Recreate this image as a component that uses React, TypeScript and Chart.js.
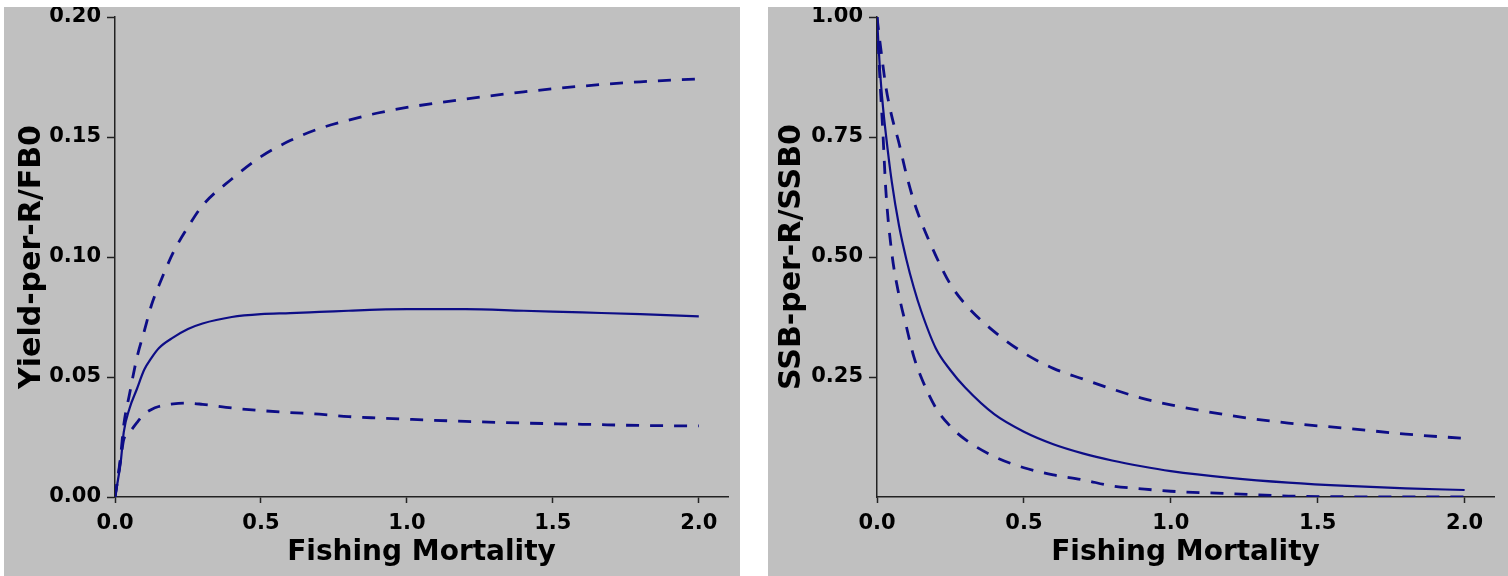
import React, { useEffect, useRef } from "react";
import { Chart, registerables } from "chart.js";

Chart.register(...registerables);

// Fishing mortality grid (x values)
const F = [0, 0.01, 0.02, 0.03, 0.05, 0.075, 0.1, 0.125, 0.15, 0.2, 0.25, 0.3, 0.4, 0.5, 0.6, 0.7, 0.8, 0.9, 1.0, 1.2, 1.4, 1.6, 1.8, 2.0];

// Left panel: Yield-per-R / FB0
const YIELD_MEDIAN = [0, 0.007, 0.015, 0.027, 0.037, 0.045, 0.053, 0.058, 0.062, 0.0665, 0.07, 0.0723, 0.075, 0.0762, 0.0766, 0.0771, 0.0776, 0.0781, 0.0783, 0.0783, 0.0776, 0.0769, 0.0762, 0.0753];
const YIELD_UPPER = [0, 0.008, 0.018, 0.03, 0.043, 0.058, 0.069, 0.08, 0.088, 0.102, 0.1125, 0.1215, 0.1325, 0.1418, 0.1485, 0.1535, 0.157, 0.16, 0.1623, 0.1658, 0.1688, 0.1712, 0.173, 0.1742];
const YIELD_LOWER = [0, 0.008, 0.016, 0.024, 0.027, 0.031, 0.0345, 0.0365, 0.0377, 0.0388, 0.0391, 0.0386, 0.0371, 0.036, 0.0352, 0.0345, 0.0335, 0.0329, 0.0324, 0.0315, 0.0308, 0.0303, 0.0298, 0.0296];

// Right panel: SSB-per-R / SSB0
const SSB_MEDIAN = [1.0, 0.89, 0.815, 0.757, 0.658, 0.565, 0.495, 0.437, 0.388, 0.31, 0.264, 0.228, 0.172, 0.136, 0.11, 0.091, 0.076, 0.064, 0.054, 0.04, 0.03, 0.023, 0.018, 0.0146];
const SSB_UPPER = [1.0, 0.948, 0.9, 0.855, 0.794, 0.737, 0.672, 0.617, 0.574, 0.503, 0.443, 0.402, 0.344, 0.3, 0.268, 0.246, 0.225, 0.206, 0.192, 0.17, 0.154, 0.143, 0.131, 0.122];
const SSB_LOWER = [1.0, 0.87, 0.76, 0.64, 0.51, 0.42, 0.355, 0.293, 0.25, 0.186, 0.147, 0.12, 0.084, 0.061, 0.046, 0.036, 0.023, 0.017, 0.012, 0.007, 0.002, 0.0005, 0, 0];

// Tick values and titles
const X_TICKS = [0, 0.5, 1.0, 1.5, 2.0];
const YIELD_TICKS = [0, 0.05, 0.1, 0.15, 0.2];
const SSB_TICKS = [0.25, 0.5, 0.75, 1.0];
const X_TITLE = "Fishing Mortality";
const YIELD_TITLE = "Yield-per-R/FB0";
const SSB_TITLE = "SSB-per-R/SSB0";

const LINE = "#0d0d86";
const AXIS = "#222222";
const FAMILY = "'DejaVu Sans', 'Liberation Sans', sans-serif";
const font = (size: number) => ({ family: FAMILY, size, weight: "bold" as const });

type PanelProps = {
  left: number;
  width: number;
  series: number[][];
  yTicks: number[];
  yMax: number;
  yTitle: string;
  yAxisWidth: number;
  rightPad: number;
  yTitlePad: number;
};

const HEIGHT = 569;

function Panel({ left, width, series, yTicks, yMax, yTitle, yAxisWidth, rightPad, yTitlePad }: PanelProps) {
  const ref = useRef<HTMLCanvasElement | null>(null);
  useEffect(() => {
    if (!ref.current) return;
    const chart = new Chart(ref.current, {
      type: "line",
      data: {
        datasets: series.map((s, i) => ({
          data: F.map((x, j) => ({ x, y: s[j] })),
          borderColor: LINE,
          borderWidth: i === 0 ? 2.2 : 2.8,
          borderDash: i === 0 ? [] : [13, 11],
          pointRadius: 0,
          fill: false,
          cubicInterpolationMode: "monotone" as const,
        })),
      },
      options: {
        animation: false,
        responsive: false,
        events: [],
        layout: { padding: { top: 10, right: rightPad, bottom: 0, left: 0 } },
        plugins: { legend: { display: false }, tooltip: { enabled: false } },
        scales: {
          x: {
            type: "linear",
            min: 0,
            max: 2.1,
            afterBuildTicks: (s: any) => {
              s.ticks = X_TICKS.map((v) => ({ value: v }));
            },
            afterFit: (s: any) => {
              s.height = 79;
              s.paddingLeft = 0;
              s.paddingRight = 0;
            },
            ticks: {
              font: font(21),
              color: "#000",
              padding: 8,
              maxRotation: 0,
              autoSkip: false,
              callback: (v: any) => Number(v).toFixed(1),
            },
            grid: { drawOnChartArea: false, drawTicks: true, tickLength: 6, tickColor: AXIS, tickWidth: 1.5 },
            border: { display: true, color: AXIS, width: 1.5 },
            title: { display: true, text: X_TITLE, font: font(28), color: "#000", padding: { top: 0, bottom: 6 } },
          },
          y: {
            type: "linear",
            min: 0,
            max: yMax,
            afterBuildTicks: (s: any) => {
              s.ticks = yTicks.map((v) => ({ value: v }));
            },
            afterFit: (s: any) => {
              s.width = yAxisWidth;
              s.paddingTop = 0;
              s.paddingBottom = 0;
            },
            ticks: {
              font: font(21),
              color: "#000",
              padding: 6,
              autoSkip: false,
              callback: (v: any) => Number(v).toFixed(2),
            },
            grid: { drawOnChartArea: false, drawTicks: true, tickLength: 8, tickColor: AXIS, tickWidth: 1.5 },
            border: { display: true, color: AXIS, width: 1.5 },
            title: { display: true, text: yTitle, font: font(30), color: "#000", padding: { top: yTitlePad, bottom: 0 } },
          },
        },
      },
    } as any);
    return () => chart.destroy();
  }, []);
  return (
    <div
      style={{
        position: "absolute",
        left,
        top: 7,
        width,
        height: HEIGHT,
        background: "#c0c0c0",
      }}
    >
      <canvas ref={ref} width={width} height={HEIGHT} style={{ display: "block", width, height: HEIGHT }} />
    </div>
  );
}

export default function App() {
  return (
    <div>
      <Panel
        left={4}
        width={736}
        series={[YIELD_MEDIAN, YIELD_UPPER, YIELD_LOWER]}
        yTicks={YIELD_TICKS}
        yMax={0.2}
        yTitle={YIELD_TITLE}
        yAxisWidth={111}
        rightPad={12}
        yTitlePad={10}
      />
      <Panel
        left={768}
        width={740}
        series={[SSB_MEDIAN, SSB_UPPER, SSB_LOWER]}
        yTicks={SSB_TICKS}
        yMax={1.0}
        yTitle={SSB_TITLE}
        yAxisWidth={109}
        rightPad={14}
        yTitlePad={6}
      />
    </div>
  );
}
